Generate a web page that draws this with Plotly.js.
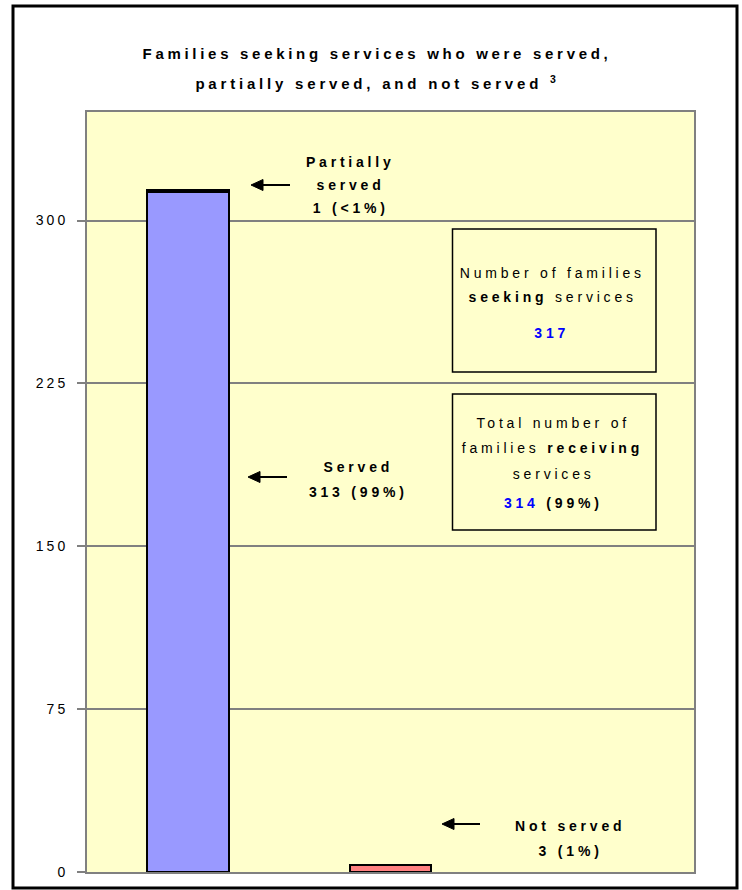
<!DOCTYPE html>
<html>
<head>
<meta charset="utf-8">
<script src="https://cdn.plot.ly/plotly-3.0.1.min.js"></script>
<style>
  html, body { margin: 0; padding: 0; background: #ffffff; }
  #chart { width: 742px; height: 890px; }
  #chart .gtitle { letter-spacing: 3.7px; }
  #chart .annotation-text { letter-spacing: 3.8px; }
  #chart .ytick text { letter-spacing: 3px; }
</style>
</head>
<body>
<div id="chart"></div>
<script>
// ---- data ----
const categories = ["Served", "Not served"];
const served = [313, null];
const partiallyServed = [1, null];
const notServed = [null, 3];
const yTicks = [0, 75, 150, 225, 300];
const yTickText = ["0", "75", "150", "225", "300"];
const titleLine1 = "Families seeking services who were served,";
const titleLine2 = "partially served, and not served <sup>3</sup>";

// ---- layout helpers (pixel -> paper) ----
const L = 87, R = 694, T = 112, B = 872;
const W = R - L, H = B - T;
const X = px => (px - L) / W;
const Y = py => (B - py) / H;

const FONT = "Liberation Sans, Arial, sans-serif";
const barLine = { color: "#000000", width: 2 };
const barWidth = 0.405;

const traces = [
  { type: "bar", name: "Served", x: categories, y: served, width: barWidth,
    marker: { color: "#9999FF", line: barLine }, hoverinfo: "skip" },
  { type: "bar", name: "Partially served", x: categories, y: partiallyServed, width: barWidth,
    marker: { color: "#000000", line: barLine }, hoverinfo: "skip" },
  { type: "bar", name: "Not served", x: categories, y: notServed, width: barWidth,
    marker: { color: "#FF8080", line: barLine }, hoverinfo: "skip" }
];

function label(text, px, py, size, color) {
  return { xref: "paper", yref: "paper", x: X(px), y: Y(py), text: text,
    showarrow: false, xanchor: "center", yanchor: "middle",
    font: { family: FONT, size: size || 14, color: color || "#000000" } };
}
// left-pointing arrow drawn as shapes (shaft + filled head)
function arrowShapes(tipX, tailX, py) {
  const headLen = 12, half = 5.5;
  return [
    { type: "line", xref: "paper", yref: "paper",
      x0: X(tipX + headLen - 1), x1: X(tailX), y0: Y(py), y1: Y(py),
      line: { color: "#000000", width: 2 } },
    { type: "path", xref: "paper", yref: "paper",
      path: "M " + X(tipX) + " " + Y(py) +
            " L " + X(tipX + headLen) + " " + Y(py - half) +
            " L " + X(tipX + headLen) + " " + Y(py + half) + " Z",
      fillcolor: "#000000", line: { color: "#000000", width: 1 } }
  ];
}

const annotations = [
  // second title line
  label("<b>" + titleLine2 + "</b>", 377, 82, 15),
  // partially served
  label("<b>Partially</b>", 350, 162),
  label("<b>served</b>", 350, 185),
  label("<b>1 (<1%)</b>", 350, 208),
  // served
  label("<b>Served</b>", 358, 467),
  label("<b>313 (99%)</b>", 358, 492),
  // not served
  label("<b>Not served</b>", 570, 826),
  label("<b>3 (1%)</b>", 570, 851),
  // box 1
  label("Number of families", 552, 273),
  label("<b>seeking</b> services", 552, 297),
  label("<b><span style='color:#0000FF'>317</span></b>", 552, 333),
  // box 2
  label("Total number of", 553, 423),
  label("families <b>receiving</b>", 552, 448),
  label("services", 553, 474),
  label("<b><span style='color:#0000FF'>314</span> (99%)</b>", 553, 503)
];

const shapes = [
  { type: "rect", xref: "paper", yref: "paper", layer: "below",
    x0: X(452.5), x1: X(656), y0: Y(372), y1: Y(229),
    line: { color: "#000000", width: 1.5 }, fillcolor: "#FFFFCC" },
  { type: "rect", xref: "paper", yref: "paper", layer: "below",
    x0: X(452.5), x1: X(656), y0: Y(530), y1: Y(394),
    line: { color: "#000000", width: 1.5 }, fillcolor: "#FFFFCC" },
  ...arrowShapes(251, 290, 185),
  ...arrowShapes(248, 287, 477),
  ...arrowShapes(442, 480, 824),
  // outer frame
  { type: "rect", xref: "paper", yref: "paper",
    x0: X(13), x1: X(737), y0: Y(888), y1: Y(6),
    line: { color: "#000000", width: 3 }, fillcolor: "rgba(0,0,0,0)" }
];

const layout = {
  width: 742, height: 890,
  margin: { l: L, r: 742 - R, t: T, b: 890 - B, pad: 0 },
  paper_bgcolor: "#FFFFFF",
  plot_bgcolor: "#FFFFCC",
  barmode: "stack",
  showlegend: false,
  font: { family: FONT, size: 14, color: "#000000" },
  title: {
    text: "<b>" + titleLine1 + "</b>",
    font: { family: FONT, size: 15, color: "#000000" },
    xref: "container", yref: "container",
    x: 377 / 742, xanchor: "center",
    y: 1 - 54 / 890, yanchor: "middle"
  },
  xaxis: {
    type: "category", categoryarray: categories, categoryorder: "array",
    range: [-0.5, 2.5], fixedrange: true,
    showticklabels: false, ticks: "", showgrid: false, zeroline: false,
    showline: true, mirror: true, linecolor: "#808080", linewidth: 2
  },
  yaxis: {
    range: [0, 350], fixedrange: true,
    tickmode: "array", tickvals: yTicks, ticktext: yTickText,
    ticks: "outside", ticklen: 8, tickwidth: 2, tickcolor: "#808080",
    ticklabelstandoff: 6,
    tickfont: { family: FONT, size: 14, color: "#000000" },
    showgrid: true, gridcolor: "#808080", gridwidth: 2,
    zeroline: false,
    showline: true, mirror: true, linecolor: "#808080", linewidth: 2
  },
  annotations: annotations,
  shapes: shapes
};

Plotly.newPlot("chart", traces, layout, { displayModeBar: false, staticPlot: true });
</script>
</body>
</html>
